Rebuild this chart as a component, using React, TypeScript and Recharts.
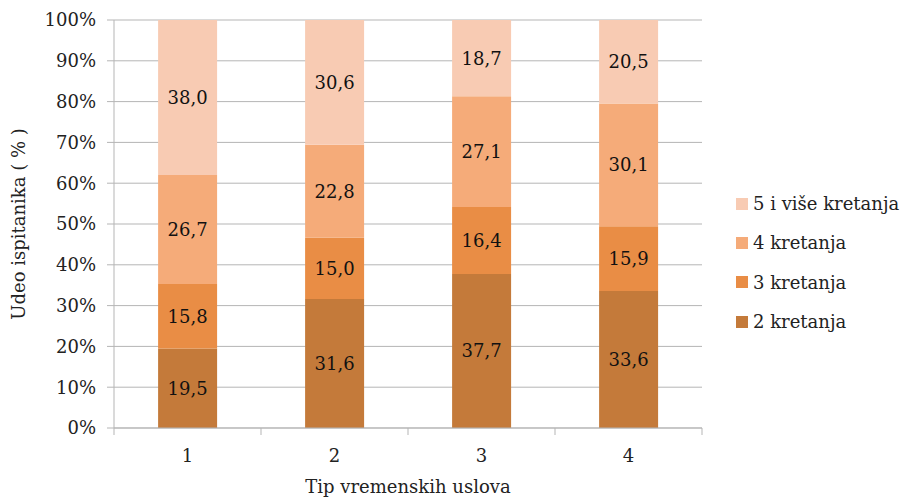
import React from "react";
import { Bar, BarChart, CartesianGrid, LabelList, XAxis, YAxis } from "recharts";

const categories = ["1", "2", "3", "4"];
const twoTrips = [19.5, 31.6, 37.7, 33.6];
const threeTrips = [15.8, 15.0, 16.4, 15.9];
const fourTrips = [26.7, 22.8, 27.1, 30.1];
const fivePlusTrips = [38.0, 30.6, 18.7, 20.5];
const yTicks = [0, 0.1, 0.2, 0.3, 0.4, 0.5, 0.6, 0.7, 0.8, 0.9, 1];

const series = [
  { key: "two", name: "2 kretanja", color: "#C47A3A", values: twoTrips },
  { key: "three", name: "3 kretanja", color: "#E98D45", values: threeTrips },
  { key: "four", name: "4 kretanja", color: "#F5AB79", values: fourTrips },
  { key: "five", name: "5 i više kretanja", color: "#F8CBB3", values: fivePlusTrips },
];

const data = categories.map((c, i) => {
  const row: Record<string, string | number> = { tip: c };
  series.forEach((s) => (row[s.key] = s.values[i]));
  return row;
});

const FONT = "'DejaVu Serif', serif";
const GRID = "#B5B5B5";
const BAND = 147;

const fmt = (v: any) => Number(v).toFixed(1).replace(".", ",");

const CategoryTick = (props: any) => {
  const { x, y, payload, index } = props;
  return (
    <g>
      <line x1={x - BAND / 2} x2={x - BAND / 2} y1={y - 8} y2={y - 1} stroke={GRID} />
      {index === categories.length - 1 && (
        <line x1={x + BAND / 2} x2={x + BAND / 2} y1={y - 8} y2={y - 1} stroke={GRID} />
      )}
      <text x={x} y={y + 26} textAnchor="middle" fontSize={18} fontFamily={FONT} fill="#222">
        {payload.value}
      </text>
    </g>
  );
};

export default function App() {
  return (
    <div style={{ position: "relative", width: 903, height: 497, background: "#fff" }}>
      <style>{`body{margin:0}`}</style>
      <BarChart
        width={903}
        height={497}
        data={data}
        stackOffset="expand"
        barCategoryGap="30%"
        margin={{ top: 20, right: 201, bottom: 0, left: 0 }}
      >
        <CartesianGrid vertical={false} stroke={GRID} />
        <XAxis
          dataKey="tip"
          height={69}
          axisLine={{ stroke: GRID }}
          tickLine={false}
          tick={<CategoryTick />}
          interval={0}
          label={{
            value: "Tip vremenskih uslova",
            position: "insideBottom",
            offset: 4,
            fontSize: 18,
            fontFamily: FONT,
            fill: "#222",
          }}
        />
        <YAxis
          width={114}
          domain={[0, 1]}
          ticks={yTicks}
          tickFormatter={(v) => `${Math.round(v * 100)}%`}
          axisLine={{ stroke: GRID }}
          tickLine={{ stroke: GRID }}
          tickSize={7}
          tickMargin={11}
          tick={{ fontSize: 18, fontFamily: FONT, fill: "#222" }}
          label={{
            value: "Udeo ispitanika ( % )",
            angle: -90,
            position: "insideLeft",
            offset: 19,
            style: { textAnchor: "middle" },
            fontSize: 18,
            fontFamily: FONT,
            fill: "#222",
          }}
        />
        {series.map((s) => (
          <Bar key={s.key} dataKey={s.key} name={s.name} stackId="a" fill={s.color} isAnimationActive={false}>
            <LabelList
              dataKey={s.key}
              position="center"
              formatter={fmt}
              fontSize={18}
              fontFamily={FONT}
              fill="#111"
            />
          </Bar>
        ))}
      </BarChart>
      <div style={{ position: "absolute", left: 736, top: 184, fontFamily: FONT, fontSize: 18, color: "#222" }}>
        {[...series].reverse().map((s) => (
          <div key={s.key} style={{ display: "flex", alignItems: "center", height: 39.3 }}>
            <span style={{ width: 12, height: 12, background: s.color, marginRight: 5 }} />
            <span>{s.name}</span>
          </div>
        ))}
      </div>
    </div>
  );
}
